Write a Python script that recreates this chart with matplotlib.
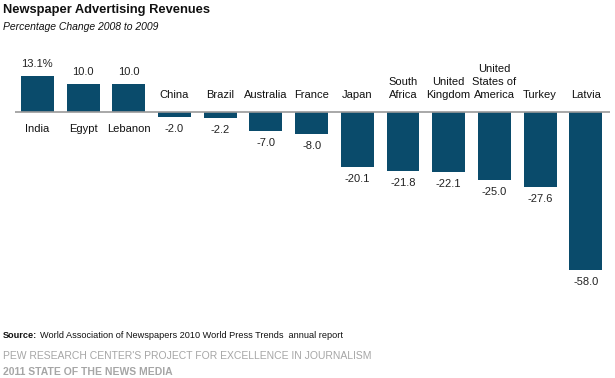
import matplotlib
matplotlib.use('Agg')
import matplotlib.pyplot as plt

plt.rcParams['font.family'] = ['Liberation Sans', 'DejaVu Sans']

countries = ['India', 'Egypt', 'Lebanon', 'China', 'Brazil', 'Australia', 'France',
             'Japan', 'South\nAfrica', 'United\nKingdom', 'United\nStates of\nAmerica',
             'Turkey', 'Latvia']
changes = [13.1, 10.0, 10.0, -2.0, -2.2, -7.0, -8.0, -20.1, -21.8, -22.1, -25.0, -27.6, -58.0]
value_labels = ['13.1%'] + ['%.1f' % v for v in changes[1:]]

bar_color = '#0a4b6b'
px = 0.72  # points per pixel at dpi 100

fig = plt.figure(figsize=(6.15, 3.78), dpi=100)
ax = fig.add_axes([15 / 615, 1 - 300 / 378, 595 / 615, 260 / 378])

x = range(len(countries))
ax.bar(x, changes, width=0.72, color=bar_color, zorder=2)
ax.axhline(0, color='#9a9a9a', lw=1.2, zorder=3)
ax.set_xlim(-0.49, 12.53)
ax.set_ylim(-68.9, 26.2)
ax.axis('off')

# value above/below the bar, country name on the other side of the baseline
for i, (c, v, lab) in enumerate(zip(countries, changes, value_labels)):
    if v >= 0:
        ax.annotate(lab, (i, v), xytext=(0, 12 * px), textcoords='offset points',
                    ha='center', va='center', fontsize=8, color='#222222')
        ax.annotate(c, (i, 0), xytext=(0, -12 * px), textcoords='offset points',
                    ha='center', va='top', fontsize=8, color='#111111', linespacing=1.4)
    else:
        ax.annotate(lab, (i, v), xytext=(0, -12 * px), textcoords='offset points',
                    ha='center', va='center', fontsize=8, color='#222222')
        ax.annotate(c, (i, 0), xytext=(0, 11.5 * px), textcoords='offset points',
                    ha='center', va='bottom', fontsize=8, color='#111111', linespacing=1.4)

fig.text(3 / 615, 1 - 10 / 378, 'Newspaper Advertising Revenues', fontsize=9.3,
         fontweight='bold', va='center', ha='left', color='#111111')
fig.text(3 / 615, 1 - 27 / 378, 'Percentage Change 2008 to 2009', fontsize=7.5,
         fontstyle='italic', va='center', ha='left', color='#111111')

src = fig.text(3 / 615, 1 - 338 / 378, 'Source:', fontsize=6.6, fontweight='bold',
               va='baseline', ha='left', color='#111111')
ax.annotate('World Association of Newspapers 2010 World Press Trends  annual report',
            xy=(1, 0), xycoords=src, xytext=(2, 0), textcoords='offset points',
            fontsize=6.6, va='bottom', ha='left', color='#111111', annotation_clip=False)
fig.text(3 / 615, 1 - 356 / 378, "PEW RESEARCH CENTER'S PROJECT FOR EXCELLENCE IN JOURNALISM",
         fontsize=7.5, va='center', ha='left', color='#a6a6a6')
fig.text(3 / 615, 1 - 372 / 378, '2011 STATE OF THE NEWS MEDIA', fontsize=7.5,
         fontweight='bold', va='center', ha='left', color='#a6a6a6')

fig.savefig('out.png', dpi=100)
